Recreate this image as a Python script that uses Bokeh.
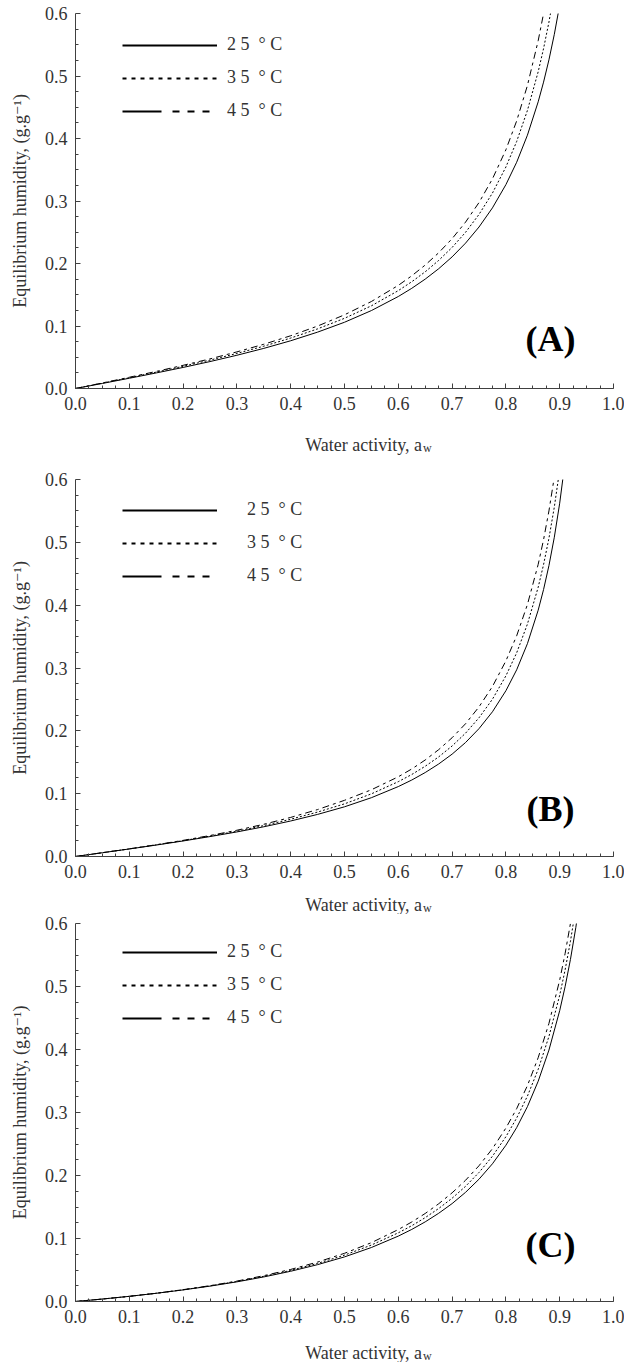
from bokeh.plotting import figure
from bokeh.models import Range1d, FixedTicker, Label, Legend, LegendItem
from bokeh.layouts import column
from bokeh.embed import file_html
from bokeh.resources import INLINE

# ---------------- data ----------------
x_ticks = [0.0, 0.1, 0.2, 0.3, 0.4, 0.5, 0.6, 0.7, 0.8, 0.9, 1.0]
x_tick_labels = ["0.0", "0.1", "0.2", "0.3", "0.4", "0.5", "0.6", "0.7", "0.8", "0.9", "1.0"]
y_ticks = [0.0, 0.1, 0.2, 0.3, 0.4, 0.5, 0.6]
y_tick_labels = ["0.0", "0.1", "0.2", "0.3", "0.4", "0.5", "0.6"]
temperatures = ["2 5  ° C", "3 5  ° C", "4 5  ° C"]
panel_names = ["(A)", "(B)", "(C)"]
x_title = "Water activity, a"
x_title_sub = "w"
y_title = "Equilibrium humidity, (g.g\u207b\u00b9)"

# Panel A
aw_A25 = [0, .05, .1, .15, .2, .25, .3, .35, .4, .45, .5, .55, .6, .625, .65, .675, .7, .725, .75, .775, .8,
          .82, .84, .86, .87, .88, .89, .9, .91]
X_A25 = [0, .0081, .0164, .0249, .0337, .0431, .0532, .0642, .0764, .0902, .1060, .1247, .1472,
         .1603, .1750, .1916, .2106, .2326, .2584, .2890, .3262,
         .3620, .4053, .4587, .4902, .5259, .5667, .6136, .6683]
aw_A35 = [0, .05, .1, .15, .2, .25, .3, .35, .4, .45, .5, .55, .6, .625, .65, .675, .7, .725, .75, .775, .8,
          .82, .84, .86, .87, .88, .89]
X_A35 = [0, .0086, .0172, .0262, .0355, .0454, .0561, .0677, .0807, .0954, .1123, .1323, .1566,
         .1708, .1867, .2049, .2257, .2499, .2785, .3127, .3544,
         .3952, .4449, .5068, .5439, .5862, .6350]
aw_A45 = [0, .05, .1, .15, .2, .25, .3, .35, .4, .45, .5, .55, .6, .625, .65, .675, .7, .725, .75, .775, .8,
          .82, .84, .86, .87, .88]
X_A45 = [0, .0089, .0180, .0273, .0371, .0474, .0586, .0708, .0844, .0999, .1179, .1392, .1650,
         .1803, .1975, .2171, .2397, .2662, .2975, .3354, .3820,
         .4281, .4848, .5564, .5999, .6499]

# Panel B
aw_B25 = [0, .05, .1, .15, .2, .25, .3, .35, .4, .45, .5, .55, .6, .625, .65, .675, .7, .725, .75, .775, .8,
          .82, .84, .86, .87, .88, .89, .9, .91]
X_B25 = [0, .0060, .0120, .0182, .0247, .0317, .0391, .0473, .0565, .0670, .0791, .0936, .1113,
         .1217, .1336, .1472, .1629, .1814, .2035, .2303, .2638,
         .2971, .3387, .3920, .4248, .4630, .5081, .5623, .6284]
aw_B35 = [0, .05, .1, .15, .2, .25, .3, .35, .4, .45, .5, .55, .6, .625, .65, .675, .7, .725, .75, .775, .8,
          .82, .84, .86, .87, .88, .89, .9]
X_B35 = [0, .0060, .0121, .0185, .0252, .0325, .0403, .0492, .0593, .0707, .0838, .0997, .1191,
         .1305, .1436, .1585, .1759, .1963, .2208, .2503, .2875,
         .3241, .3699, .4285, .4645, .5065, .5561, .6157]
aw_B45 = [0, .05, .1, .15, .2, .25, .3, .35, .4, .45, .5, .55, .6, .625, .65, .675, .7, .725, .75, .775, .8,
          .82, .84, .86, .87, .88, .89, .9]
X_B45 = [0, .0061, .0122, .0187, .0257, .0334, .0418, .0513, .0622, .0747, .0894, .1062, .1269,
         .1393, .1536, .1700, .1890, .2113, .2381, .2706, .3113,
         .3512, .4010, .4649, .5042, .5500, .6041, .6691]

# Panel C
aw_C25 = [0, .05, .1, .15, .2, .25, .3, .35, .4, .45, .5, .55, .6, .625, .65, .675, .7, .725, .75, .775, .8,
          .82, .84, .86, .88, .9, .91, .92, .93, .94]
X_C25 = [0, .0039, .0082, .0130, .0184, .0244, .0312, .0390, .0480, .0585, .0708, .0857, .1038,
         .1144, .1264, .1400, .1554, .1733, .1941, .2186, .2480,
         .2760, .3093, .3496, .3991, .4617, .4996, .5431, .5938, .6535]
aw_C35 = [0, .05, .1, .15, .2, .25, .3, .35, .4, .45, .5, .55, .6, .625, .65, .675, .7, .725, .75, .775, .8,
          .82, .84, .86, .88, .9, .91, .92, .93]
X_C35 = [0, .0039, .0082, .0131, .0186, .0248, .0318, .0400, .0494, .0605, .0736, .0896, .1090,
         .1203, .1331, .1476, .1639, .1828, .2048, .2306, .2616,
         .2912, .3260, .3685, .4207, .4862, .5261, .5719, .6253]
aw_C45 = [0, .05, .1, .15, .2, .25, .3, .35, .4, .45, .5, .55, .6, .625, .65, .675, .7, .725, .75, .775, .8,
          .82, .84, .86, .88, .9, .91, .92, .93]
X_C45 = [0, .0039, .0082, .0131, .0188, .0251, .0324, .0410, .0509, .0626, .0765, .0934, .1142,
         .1262, .1397, .1551, .1725, .1924, .2155, .2426, .2753,
         .3061, .3427, .3870, .4414, .5102, .5521, .6001, .6561]

panels = [
    [(aw_A25, X_A25), (aw_A35, X_A35), (aw_A45, X_A45)],
    [(aw_B25, X_B25), (aw_B35, X_B35), (aw_B45, X_B45)],
    [(aw_C25, X_C25), (aw_C35, X_C35), (aw_C45, X_C45)],
]

# ---------------- styles / layout ----------------
FONT = "'Liberation Serif', 'Times New Roman', 'DejaVu Serif', serif"
TXT = "#333333"
AX = "#404040"
W = 624
curve_dash = ["solid", "2 2", "7 4 3 4"]
legend_dash = ["solid", "4 5", "39 11 7 8 7 8 7 8"]

# per panel: figure height, top/bottom border, legend (x, y) offset, label standoff,
# panel-name y (data), x-title strip height and baseline
layout_cfg = [
    dict(height=420, top=13, bottom=32, leg=(47, 267), stand=10, ly=0.080, th=35, tb=11),
    dict(height=433, top=24, bottom=32, leg=(47, 270), stand=30, ly=0.075, th=26, tb=10),
    dict(height=419, top=9, bottom=32, leg=(47, 273), stand=10, ly=0.090, th=29, tb=10),
]

x_minor = [i * 0.025 for i in range(41)]
y_minor = [i * 0.025 for i in range(25)]


def make_panel(curves, name, cfg):
    p = figure(width=W, height=cfg["height"], x_range=Range1d(0, 1), y_range=Range1d(0, 0.6),
               output_backend="svg", toolbar_location=None, title=None,
               min_border_left=75, min_border_right=11,
               min_border_top=cfg["top"], min_border_bottom=cfg["bottom"])
    p.outline_line_color = None
    p.grid.visible = False
    p.background_fill_color = "white"

    for ax, ticks, labels, minor in ((p.xaxis, x_ticks, x_tick_labels, x_minor),
                                     (p.yaxis, y_ticks, y_tick_labels, y_minor)):
        ax.ticker = FixedTicker(ticks=ticks, minor_ticks=minor)
        ax.major_label_overrides = dict(zip(ticks, labels))
        ax.axis_line_color = AX
        ax.major_tick_line_color = AX
        ax.minor_tick_line_color = AX
        ax.major_tick_in = 5
        ax.major_tick_out = 0
        ax.minor_tick_in = 3
        ax.minor_tick_out = 0
        ax.major_label_text_font = FONT
        ax.major_label_text_font_size = "18px"
        ax.major_label_text_color = TXT
    p.xaxis.major_label_standoff = 8
    p.yaxis.major_label_standoff = 8

    p.yaxis.axis_label = y_title
    p.yaxis.axis_label_text_font = FONT
    p.yaxis.axis_label_text_font_size = "18px"
    p.yaxis.axis_label_text_font_style = "normal"
    p.yaxis.axis_label_text_color = TXT
    p.yaxis.axis_label_standoff = 12

    # curves
    for (aw, X), dash in zip(curves, curve_dash):
        p.line(aw, X, line_color="black", line_width=1, line_dash=dash)

    # legend: sample lines are thicker than the curves, as in the reference
    items = []
    for lab, dash in zip(temperatures, legend_dash):
        r = p.line([float("nan")], [float("nan")], line_color="black", line_width=2.2, line_dash=dash)
        items.append(LegendItem(label=lab, renderers=[r]))
    leg = Legend(items=items, location=cfg["leg"], glyph_width=95, glyph_height=20,
                 label_height=20, spacing=12, padding=0, margin=0,
                 label_standoff=cfg["stand"], border_line_color=None,
                 background_fill_alpha=0, label_text_font=FONT,
                 label_text_font_size="18px", label_text_color=TXT)
    p.add_layout(leg)

    # panel name
    p.add_layout(Label(x=0.883, y=cfg["ly"], text=name, text_align="center",
                       text_baseline="middle", text_font=FONT, text_font_size="36px",
                       text_font_style="bold", text_color="black"))
    return p


def make_title_strip(cfg):
    h = cfg["th"]
    t = figure(width=W, height=h, x_range=Range1d(0, W), y_range=Range1d(0, h),
               output_backend="svg", toolbar_location=None, title=None,
               min_border=0, min_border_left=0, min_border_right=0,
               min_border_top=0, min_border_bottom=0,
               x_axis_type=None, y_axis_type=None)
    t.outline_line_color = None
    t.grid.visible = False
    t.add_layout(Label(x=402, y=cfg["tb"], text=x_title, text_align="right",
                       text_baseline="alphabetic", text_font=FONT, text_font_size="18px",
                       text_color=TXT))
    t.add_layout(Label(x=403, y=cfg["tb"] - 3, text=x_title_sub, text_align="left",
                       text_baseline="alphabetic", text_font=FONT, text_font_size="12px",
                       text_color=TXT))
    return t


children = []
for c, n, cfg in zip(panels, panel_names, layout_cfg):
    children.append(make_panel(c, n, cfg))
    children.append(make_title_strip(cfg))

layout = column(*children, spacing=0)
open("out.html", "w").write(file_html(layout, INLINE))
